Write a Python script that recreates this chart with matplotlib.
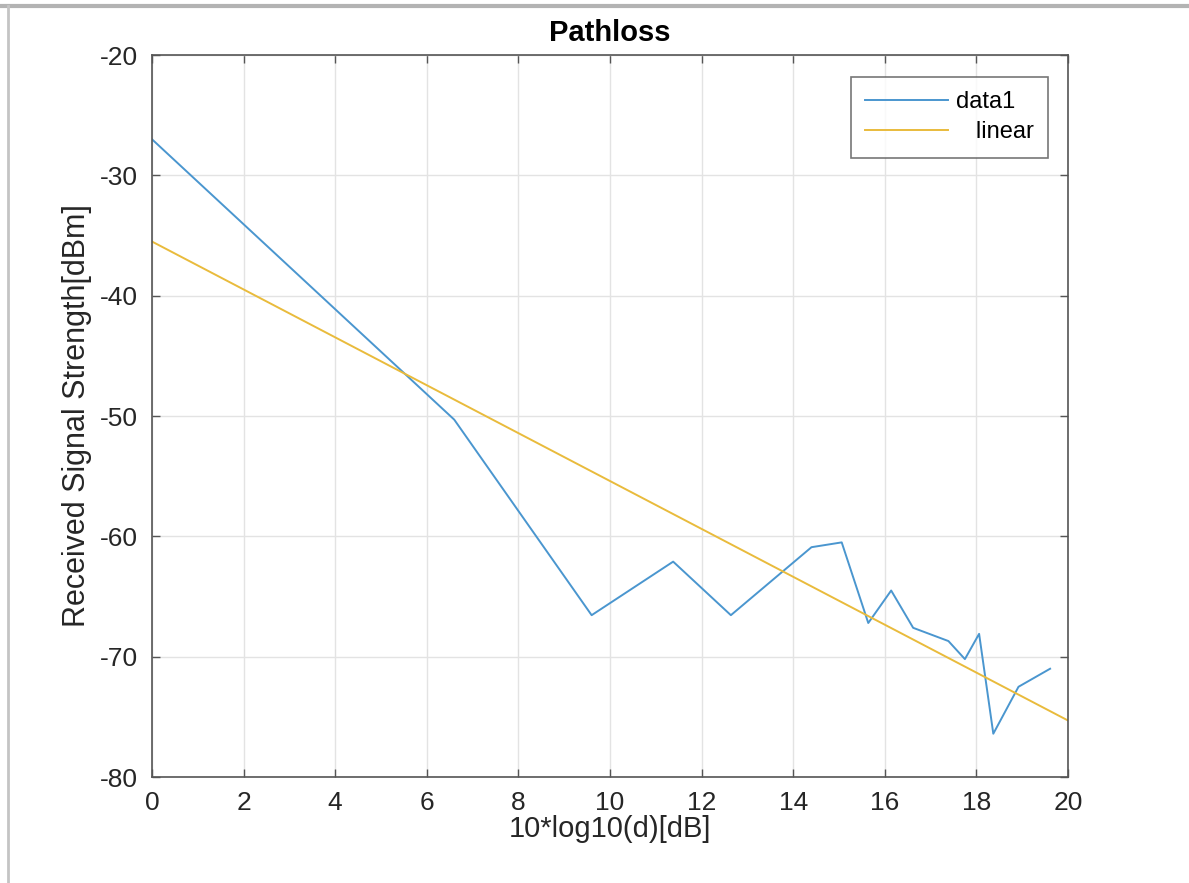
import numpy as np
import matplotlib.pyplot as plt
from matplotlib.lines import Line2D

plt.rcParams['font.family'] = ['Liberation Sans', 'DejaVu Sans']
plt.rcParams['axes.unicode_minus'] = False

# measured received signal strength vs 10*log10(d)
dist_db = [0.0, 6.6, 9.6, 11.38, 12.64, 14.4, 15.06, 15.64, 16.14, 16.62,
           17.39, 17.75, 18.06, 18.37, 18.92, 19.61]
rss_dbm = [-27.0, -50.3, -66.55, -62.1, -66.55, -60.9, -60.5, -67.2, -64.5, -67.6,
           -68.7, -70.2, -68.1, -76.4, -72.5, -71.0]

# fitted line end points
fit_x = [0.0, 20.0]
fit_y = [-35.5, -75.3]

x_ticks = np.arange(0, 21, 2)
y_ticks = np.arange(-80, -19, 10)

fig = plt.figure(figsize=(11.89, 8.83), dpi=100)
ax = fig.add_axes([0.1278, 0.12, 0.7704, 0.8177])

ax.plot(dist_db, rss_dbm, color='#4a96cf', lw=1.4, label='data1')
ax.plot(fit_x, fit_y, color='#e9bb3c', lw=1.4, label='   linear')

ax.set_xlim(0, 20)
ax.set_ylim(-80, -20)
ax.set_xticks(x_ticks)
ax.set_yticks(y_ticks)
ax.grid(True, color='#e3e3e3', lw=1.0)
ax.set_axisbelow(True)

ax.tick_params(direction='in', length=6, width=1.0, color='#555555',
               top=True, right=True, labelsize=19, labelcolor='#262626')
ax.tick_params(axis='x', pad=10)
ax.tick_params(axis='y', pad=10)
for sp in ax.spines.values():
    sp.set_color('#555555')
    sp.set_linewidth(1.2)

ax.set_xlabel('10*log10(d)[dB]', fontsize=21, color='#262626', labelpad=0)
ax.set_ylabel('Received Signal Strength[dBm]', fontsize=22, color='#262626', labelpad=6)
ax.set_title('Pathloss', fontsize=21, fontweight='bold', pad=10)

leg = ax.legend(loc='upper right', bbox_to_anchor=(0.978, 0.9695), fontsize=17,
                frameon=True, fancybox=False, handlelength=3.5, borderpad=0.6,
                labelspacing=0.35, handletextpad=0.35, borderaxespad=0)
leg.get_frame().set_edgecolor('#555555')
leg.get_frame().set_linewidth(1.2)

# screenshot frame at the top and left edges
fig.add_artist(Line2D([0.0, 1.0], [0.9935, 0.9935], transform=fig.transFigure,
                      color='#b3b3b3', lw=3))
fig.add_artist(Line2D([0.0068, 0.0068], [0.0, 0.9935], transform=fig.transFigure,
                      color='#c4c4c4', lw=2))

fig.savefig('out.png', dpi=100)
